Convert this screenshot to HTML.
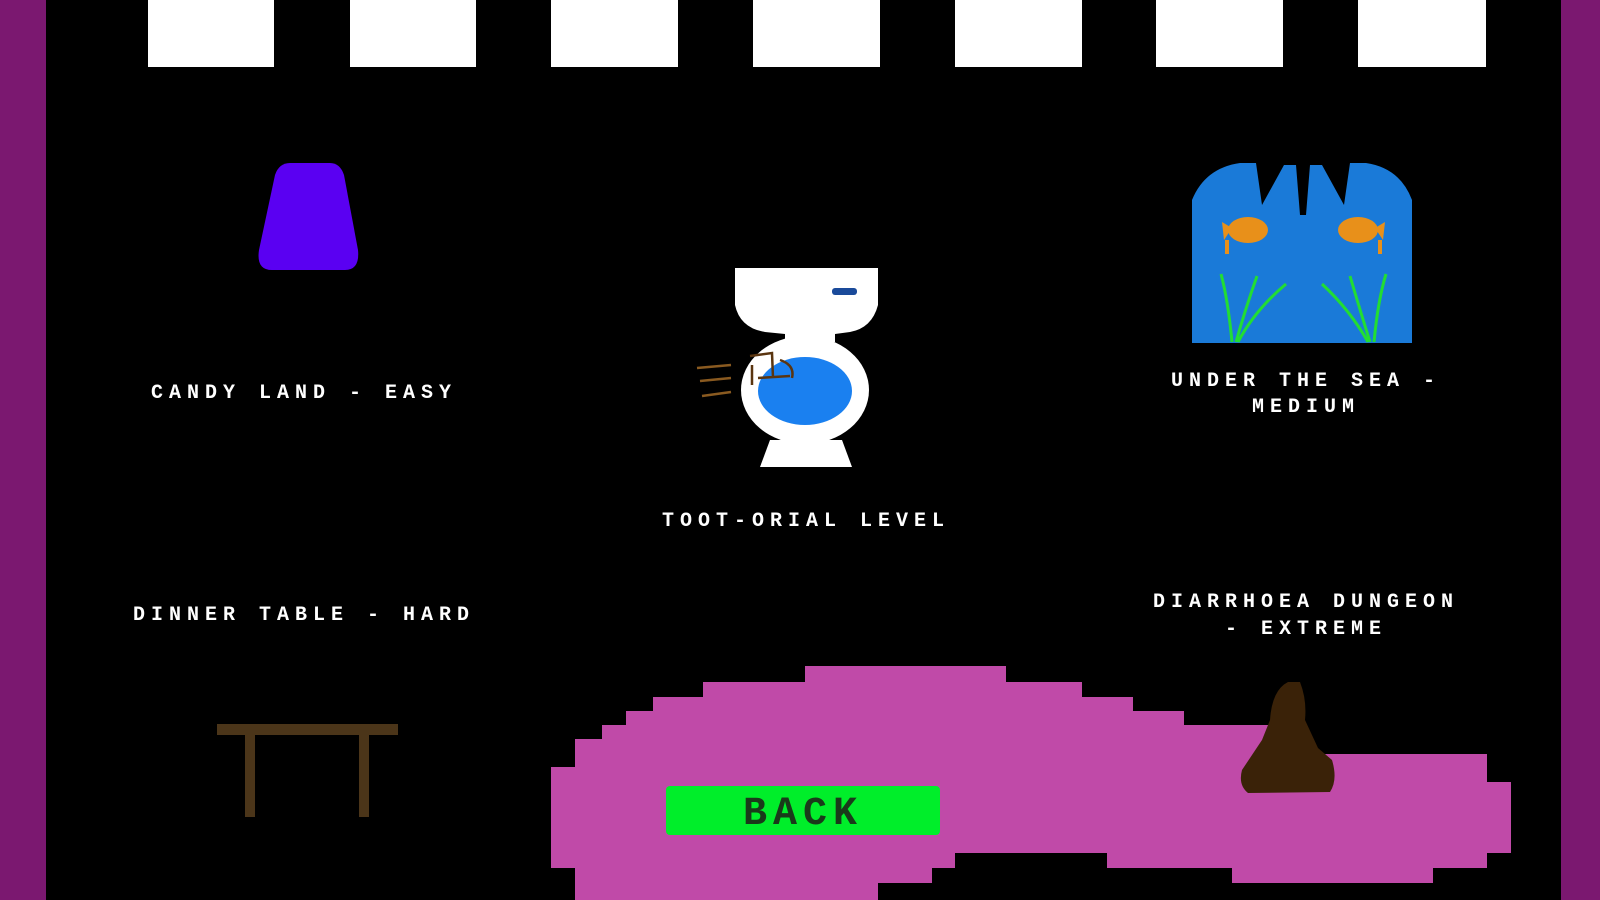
<!DOCTYPE html>
<html><head><style>
html,body{margin:0;padding:0;background:#000;width:1600px;height:900px;overflow:hidden}
svg{display:block}
text{font-family:"Liberation Mono","DejaVu Sans Mono",monospace;font-weight:bold;fill:#fff}
</style></head><body>
<svg width="1600" height="900" viewBox="0 0 1600 900" xmlns="http://www.w3.org/2000/svg">
<rect width="1600" height="900" fill="#000"/>
<rect x="0" y="0" width="46" height="900" fill="#7b1870"/>
<rect x="1561" y="0" width="39" height="900" fill="#7b1870"/>
<g fill="#fff">
<rect x="148" y="0" width="126" height="67"/>
<rect x="350" y="0" width="126" height="67"/>
<rect x="551" y="0" width="127" height="67"/>
<rect x="753" y="0" width="127" height="67"/>
<rect x="955" y="0" width="127" height="67"/>
<rect x="1156" y="0" width="127" height="67"/>
<rect x="1358" y="0" width="128" height="67"/>
</g>
<!-- candy -->
<path d="M290 163 L330 163 Q340 163 344 175 L358 250 Q360 270 345 270 L272 270 Q256 270 259 250 L275 175 Q279 163 290 163Z" fill="#5a00f2"/>
<!-- toilet -->
<g>
<rect x="735" y="268" width="143" height="12" fill="#fff"/>
<path d="M735 280 L878 280 L878 305 Q872 328 850 332 L835 334 L835 342 L785 342 L785 334 L765 332 Q740 328 735 305Z" fill="#fff"/>
<rect x="832" y="288" width="25" height="7" rx="3" fill="#1a4a9a"/>
<ellipse cx="805" cy="390" rx="64" ry="54" fill="#fff"/>
<ellipse cx="805" cy="391" rx="47" ry="34" fill="#1a80f0"/>
<path d="M770 440 L842 440 L852 467 L760 467Z" fill="#fff"/>
<path d="M750 356 L772 353 L773 378 M758 378 L790 376 M780 360 Q795 365 792 378 M752 365 L752 385" stroke="#5a3510" stroke-width="2.5" fill="none"/>
<g stroke="#8a5a20" stroke-width="2.5"><line x1="697" y1="368" x2="731" y2="365"/><line x1="700" y1="381" x2="731" y2="378"/><line x1="702" y1="396" x2="731" y2="392"/></g>
</g>
<!-- sea -->
<g>
<path d="M1192 343 L1192 200 Q1205 168 1240 163 L1256 163 L1262 205 L1284 165 L1296 165 L1300 215 L1306 215 L1310 165 L1322 165 L1344 205 L1350 163 L1366 163 Q1400 168 1412 200 L1412 343Z" fill="#1a7ad8"/>
<g fill="#e8901a">
<ellipse cx="1248" cy="230" rx="20" ry="13"/>
<path d="M1222 222 L1232 228 L1224 240Z"/>
<rect x="1225" y="240" width="4" height="14"/>
<ellipse cx="1358" cy="230" rx="20" ry="13"/>
<path d="M1385 222 L1375 228 L1383 240Z"/>
<rect x="1378" y="240" width="4" height="14"/>
</g>
<g stroke="#22dd33" stroke-width="3" fill="none">
<path d="M1221 274 Q1228 300 1232 342 M1257 276 Q1245 310 1236 342 M1286 284 Q1255 310 1238 342"/>
<path d="M1386 274 Q1378 300 1374 342 M1350 276 Q1360 310 1370 342 M1322 284 Q1350 310 1368 342"/>
</g>
</g>
<!-- table -->
<g fill="#4b3519">
<rect x="217" y="724" width="181" height="11"/>
<rect x="245" y="735" width="10" height="82"/>
<rect x="359" y="735" width="10" height="82"/>
</g>
<!-- blob -->
<path d="M805 666 L1006 666 L1006 682 L1082 682 L1082 697 L1133 697 L1133 711 L1184 711 L1184 725 L1300 725 L1300 754 L1487 754 L1487 782 L1511 782 L1511 853 L1487 853 L1487 868 L1433 868 L1433 883 L1232 883 L1232 868 L1107 868 L1107 853 L955 853 L955 868 L932 868 L932 883 L878 883 L878 900 L575 900 L575 868 L551 868 L551 767 L575 767 L575 739 L602 739 L602 725 L626 725 L626 711 L653 711 L653 697 L703 697 L703 682 L805 682Z" fill="#c04aa8"/>
<path d="M1288 682 L1300 682 Q1307 700 1305 720 L1318 748 L1332 760 Q1338 780 1330 792 L1248 793 Q1238 785 1242 770 L1262 740 L1270 720 Q1272 690 1288 682Z" fill="#3a2208"/>
<rect x="666" y="786" width="274" height="49" rx="4" fill="#00ee2a"/>
<text x="803" y="824" text-anchor="middle" font-size="40" letter-spacing="6" style="fill:#1a3a1a">BACK</text>
<!-- labels -->
<g font-size="20" letter-spacing="6" text-anchor="middle">
<text x="304" y="398">CANDY LAND - EASY</text>
<text x="806" y="526">TOOT-ORIAL LEVEL</text>
<text x="1306" y="386">UNDER THE SEA -</text>
<text x="1306" y="412">MEDIUM</text>
<text x="304" y="620">DINNER TABLE - HARD</text>
<text x="1306" y="607">DIARRHOEA DUNGEON</text>
<text x="1306" y="634">- EXTREME</text>
</g>
</svg>
</body></html>
